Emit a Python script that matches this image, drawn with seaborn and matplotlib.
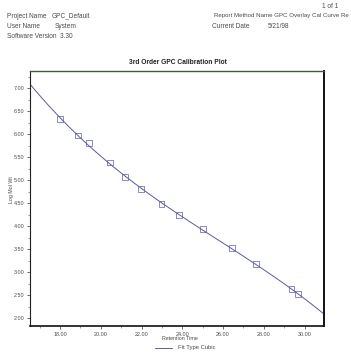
import pandas as pd
import matplotlib
matplotlib.use("Agg")
import matplotlib.pyplot as plt
import seaborn as sns
from matplotlib.ticker import MultipleLocator, FixedLocator

# calibration standards
retention_time = [18.00, 18.90, 19.42, 20.45, 21.19, 21.96, 22.98, 23.85,
                  25.00, 26.42, 27.61, 29.36, 29.68]
log_mol_wt = [6.32, 5.97, 5.80, 5.38, 5.07, 4.80, 4.48, 4.24,
              3.93, 3.53, 3.17, 2.63, 2.52]
x_ticks = [18, 20, 22, 24, 26, 28, 30]
x_tick_labels = ["18.00", "20.00", "22.00", "24.00", "26.00", "28.00", "30.00"]
y_ticks = [2.0, 2.5, 3.0, 3.5, 4.0, 4.5, 5.0, 5.5, 6.0, 6.5, 7.0]
y_tick_labels = ["%.2f" % v for v in y_ticks]

df = pd.DataFrame({"Retention Time": retention_time, "Log Mol Wt": log_mol_wt})

sns.set_style("white")
plt.rcParams["font.family"] = ["Liberation Sans", "DejaVu Sans"]

fig = plt.figure(figsize=(3.51, 3.56), dpi=100)
ax = fig.add_axes([30 / 351, 1 - 326 / 356, 294 / 351, 255 / 356])
ax.set_xlim(16.53, 30.95)
ax.set_ylim(1.83, 7.37)

line_col = "#5b5b9c"
sns.regplot(data=df, x="Retention Time", y="Log Mol Wt", order=3, ci=None,
            truncate=False, ax=ax, marker="s",
            scatter_kws={"s": 17, "facecolors": "none", "edgecolors": "#6b6bbf",
                         "linewidths": 0.7},
            line_kws={"color": line_col, "lw": 0.7})
ax.set_xlim(16.53, 30.95)
ax.set_ylim(1.83, 7.37)

txt = "#4a4a4a"
ax.xaxis.set_major_locator(FixedLocator(x_ticks))
ax.set_xticklabels(x_tick_labels, fontsize=3.9, color=txt)
ax.yaxis.set_major_locator(FixedLocator(y_ticks))
ax.set_yticklabels(y_tick_labels, fontsize=3.9, color=txt)
ax.xaxis.set_minor_locator(MultipleLocator(1))
ax.yaxis.set_minor_locator(MultipleLocator(0.25))
ax.tick_params(axis="both", which="major", direction="out", length=2.5,
               width=0.5, pad=1.5, color="#333333")
ax.tick_params(axis="both", which="minor", direction="out", length=1.2,
               width=0.4, color="#555555")
ax.tick_params(left=True, bottom=True)
ax.tick_params(which="minor", left=True, bottom=True)
ax.set_xlabel("")
ax.set_ylabel("")

for side, lw, col in [("left", 0.8, "#222222"), ("bottom", 1.2, "#111111"),
                      ("right", 1.4, "#111111"), ("top", 1.0, "#3c5a3c")]:
    ax.spines[side].set_visible(True)
    ax.spines[side].set_linewidth(lw)
    ax.spines[side].set_color(col)

fs = 4.7
fig.text(338 / 351, 1 - 6 / 356, "1 of 1", fontsize=fs, color=txt, ha="right", va="center")
fig.text(7 / 351, 1 - 16 / 356, "Project Name", fontsize=fs, color=txt, va="center")
fig.text(52 / 351, 1 - 16 / 356, "GPC_Default", fontsize=fs, color=txt, va="center")
fig.text(7 / 351, 1 - 26 / 356, "User Name", fontsize=fs, color=txt, va="center")
fig.text(55 / 351, 1 - 26 / 356, "System", fontsize=fs, color=txt, va="center")
fig.text(7 / 351, 1 - 36 / 356, "Software Version  3.30", fontsize=fs, color=txt, va="center")
fig.text(349 / 351, 1 - 16 / 356, "Report Method Name GPC Overlay Cal Curve Re",
         fontsize=4.4, color=txt, ha="right", va="center")
fig.text(212 / 351, 1 - 27 / 356, "Current Date", fontsize=fs, color=txt, va="center")
fig.text(268 / 351, 1 - 27 / 356, "5/21/98", fontsize=fs, color=txt, va="center")

fig.text(178 / 351, 1 - 62 / 356, "3rd Order GPC Calibration Plot", fontsize=4.8,
         fontweight="bold", color="#222222", ha="center", va="center")
fig.text(11 / 351, 1 - 190 / 356, "Log Mol Wt", fontsize=3.8, color=txt,
         rotation=90, ha="center", va="center")
fig.text(180 / 351, 1 - 339 / 356, "Retention Time", fontsize=3.8, color=txt,
         ha="center", va="center")
fig.lines.append(plt.Line2D([155 / 351, 172 / 351], [1 - 348 / 356, 1 - 348 / 356],
                            transform=fig.transFigure, color=line_col, lw=0.7))
fig.text(178 / 351, 1 - 348 / 356, "Fit Type Cubic", fontsize=4.2, color=txt,
         va="center")

fig.savefig("out.png", dpi=100)
